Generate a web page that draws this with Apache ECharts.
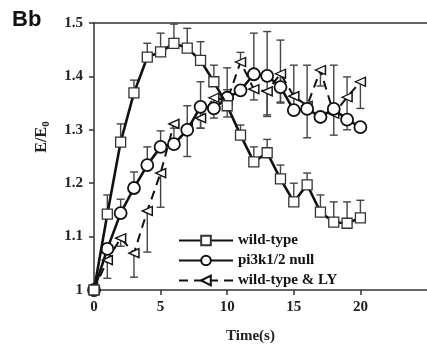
<!DOCTYPE html>
<html><head><meta charset="utf-8">
<script src="https://cdn.jsdelivr.net/npm/echarts@6/dist/echarts.min.js"></script>
<style>html,body{margin:0;padding:0;background:#fff}#c{width:427px;height:351px}</style>
</head><body><div id="c"></div>
<script>
var times = [0,1,2,3,4,5,6,7,8,9,10,11,12,13,14,15,16,17,18,19,20];
var wildType = [1.0,1.142,1.277,1.369,1.436,1.446,1.462,1.453,1.43,1.39,1.345,1.29,1.24,1.257,1.208,1.165,1.197,1.146,1.127,1.125,1.135];
var wildTypeErrUp = [0,0.036,0.034,0.024,0.026,0.035,0.036,0.037,0.035,0.031,0.03,0.019,0.028,0.025,0.026,0.035,0.022,0.032,0.038,0.04,0.033];
var pi3kNull = [1.0,1.077,1.144,1.191,1.234,1.268,1.273,1.30,1.343,1.34,1.36,1.374,1.404,1.401,1.38,1.337,1.339,1.324,1.339,1.319,1.305];
var pi3kErrUp = [0,0,0.026,0.03,0.034,0.03,0.03,0.045,0.047,0,0.056,0,0.077,0.083,0.088,0.084,0.082,0,0.082,0.08,0];
var pi3kErrDown = [0,0,0,0,0,0,0,0.05,0.04,0.018,0.036,0,0,0.073,0.028,0,0.054,0,0.049,0.019,0];
var wtLY = [1.0,1.056,1.097,1.069,1.148,1.219,1.311,1.305,1.322,1.36,1.355,1.427,1.376,1.372,1.405,1.363,1.345,1.412,1.33,1.361,1.39];
var wtLYErrUp = [0,0,0,0,0,0,0,0,0,0,0,0.018,0,0,0,0,0,0,0,0,0];
var wtLYErrDown = [0,0.034,0.015,0.045,0.077,0.064,0,0,0.019,0.02,0,0,0.02,0.047,0.055,0,0,0.03,0,0,0.05];
var yTicks = [1,1.1,1.2,1.3,1.4,1.5];
var xTicks = [0,5,10,15,20];
var seriesNames = ['wild-type','pi3k1/2 null','wild-type & LY'];

function pairs(v){ return times.map(function(t,i){ return [t, v[i]]; }); }
function errData(v, up, down){ return times.map(function(t,i){ return [t, v[i], up[i], down ? down[i] : 0]; }); }

function errRender(params, api){
  var t = api.value(0), b = api.value(1), u = api.value(2), d = api.value(3);
  var children = [];
  var p0 = api.coord([t, b]);
  var cap = 4;
  var st = {stroke:'#444', lineWidth:1.4};
  if (u > 0) {
    var pu = api.coord([t, b + u]);
    children.push({type:'line', shape:{x1:p0[0],y1:p0[1],x2:pu[0],y2:pu[1]}, style:st});
    children.push({type:'line', shape:{x1:pu[0]-cap,y1:pu[1],x2:pu[0]+cap,y2:pu[1]}, style:st});
  }
  if (d > 0) {
    var pd = api.coord([t, b - d]);
    children.push({type:'line', shape:{x1:p0[0],y1:p0[1],x2:pd[0],y2:pd[1]}, style:st});
    children.push({type:'line', shape:{x1:pd[0]-cap,y1:pd[1],x2:pd[0]+cap,y2:pd[1]}, style:st});
  }
  return {type:'group', children:children};
}

var serif = 'Liberation Serif';
var chart = echarts.init(document.getElementById('c'), null, {renderer:'canvas'});
chart.setOption({
  animation:false,
  backgroundColor:'#fff',
  grid:{left:94, top:23, right:-7, bottom:61},
  xAxis:[{
    type:'value', min:0, max:25, interval:5,
    axisLine:{show:true, lineStyle:{color:'#333', width:1.5}},
    axisTick:{show:true, length:5, lineStyle:{color:'#333', width:1.5}},
    splitLine:{show:false},
    axisLabel:{margin:10, color:'#222', fontFamily:serif, fontWeight:'bold', fontSize:15, showMaxLabel:false,
      formatter:function(v){ return xTicks.indexOf(v) >= 0 ? String(v) : ''; }}
  },{
    type:'value', position:'top', min:0, max:25,
    axisLine:{show:true, lineStyle:{color:'#333', width:1.5}},
    axisTick:{show:false}, axisLabel:{show:false}, splitLine:{show:false}
  }],
  yAxis:{
    type:'value', min:1, max:1.5, interval:0.1,
    axisLine:{show:true, lineStyle:{color:'#333', width:1.5}},
    axisTick:{show:true, length:5, lineStyle:{color:'#333', width:1.5}},
    splitLine:{show:false},
    axisLabel:{margin:11, color:'#222', fontFamily:serif, fontWeight:'bold', fontSize:15,
      formatter:function(v){ var r = Math.round(v*10)/10; return r === 1 ? '1' : r.toFixed(1); }}
  },
  legend:{
    orient:'vertical', left:173, top:228, itemGap:5, itemWidth:54, itemHeight:12,
    data:seriesNames,
    textStyle:{color:'#111', fontFamily:serif, fontWeight:'bold', fontSize:15, padding:[0,0,0,0]}
  },
  graphic:[
    {type:'text', left:12, top:9, style:{text:'Bb', fontFamily:'Liberation Sans', fontWeight:'bold', fontSize:22, fill:'#111'}},
    {type:'text', left:226, top:329, style:{text:'Time(s)', fontFamily:serif, fontWeight:'bold', fontSize:15, fill:'#222'}},
    {type:'text', x:42, y:137, rotation:Math.PI/2, style:{
      text:'E/E{s|0}', fontFamily:serif, fontWeight:'bold', fontSize:16, fill:'#222', align:'center', verticalAlign:'middle',
      rich:{s:{fontFamily:serif, fontWeight:'bold', fontSize:11, fill:'#222', padding:[8,0,0,0]}}}}
  ],
  series:[
    {type:'custom', name:'errWT', renderItem:errRender, data:errData(wildType, wildTypeErrUp), z:1, silent:true},
    {type:'custom', name:'errPI', renderItem:errRender, data:errData(pi3kNull, pi3kErrUp, pi3kErrDown), z:1, silent:true},
    {type:'custom', name:'errLY', renderItem:errRender, data:errData(wtLY, wtLYErrUp, wtLYErrDown), z:1, silent:true},
    {type:'line', name:seriesNames[2], data:pairs(wtLY), z:3,
      symbol:'triangle', symbolSize:[9,10], symbolRotate:90, showAllSymbol:true,
      lineStyle:{color:'#111', width:2, type:[9,6]},
      itemStyle:{color:'#fff', borderColor:'#111', borderWidth:1.4}},
    {type:'line', name:seriesNames[1], data:pairs(pi3kNull), z:4,
      symbol:'circle', symbolSize:12, showAllSymbol:true,
      lineStyle:{color:'#111', width:2.6},
      itemStyle:{color:'#fff', borderColor:'#111', borderWidth:1.8}},
    {type:'line', name:seriesNames[0], data:pairs(wildType), z:5,
      symbol:'rect', symbolSize:10, showAllSymbol:true,
      lineStyle:{color:'#111', width:2.6},
      itemStyle:{color:'#fff', borderColor:'#333', borderWidth:1.3}}
  ]
});
</script></body></html>
